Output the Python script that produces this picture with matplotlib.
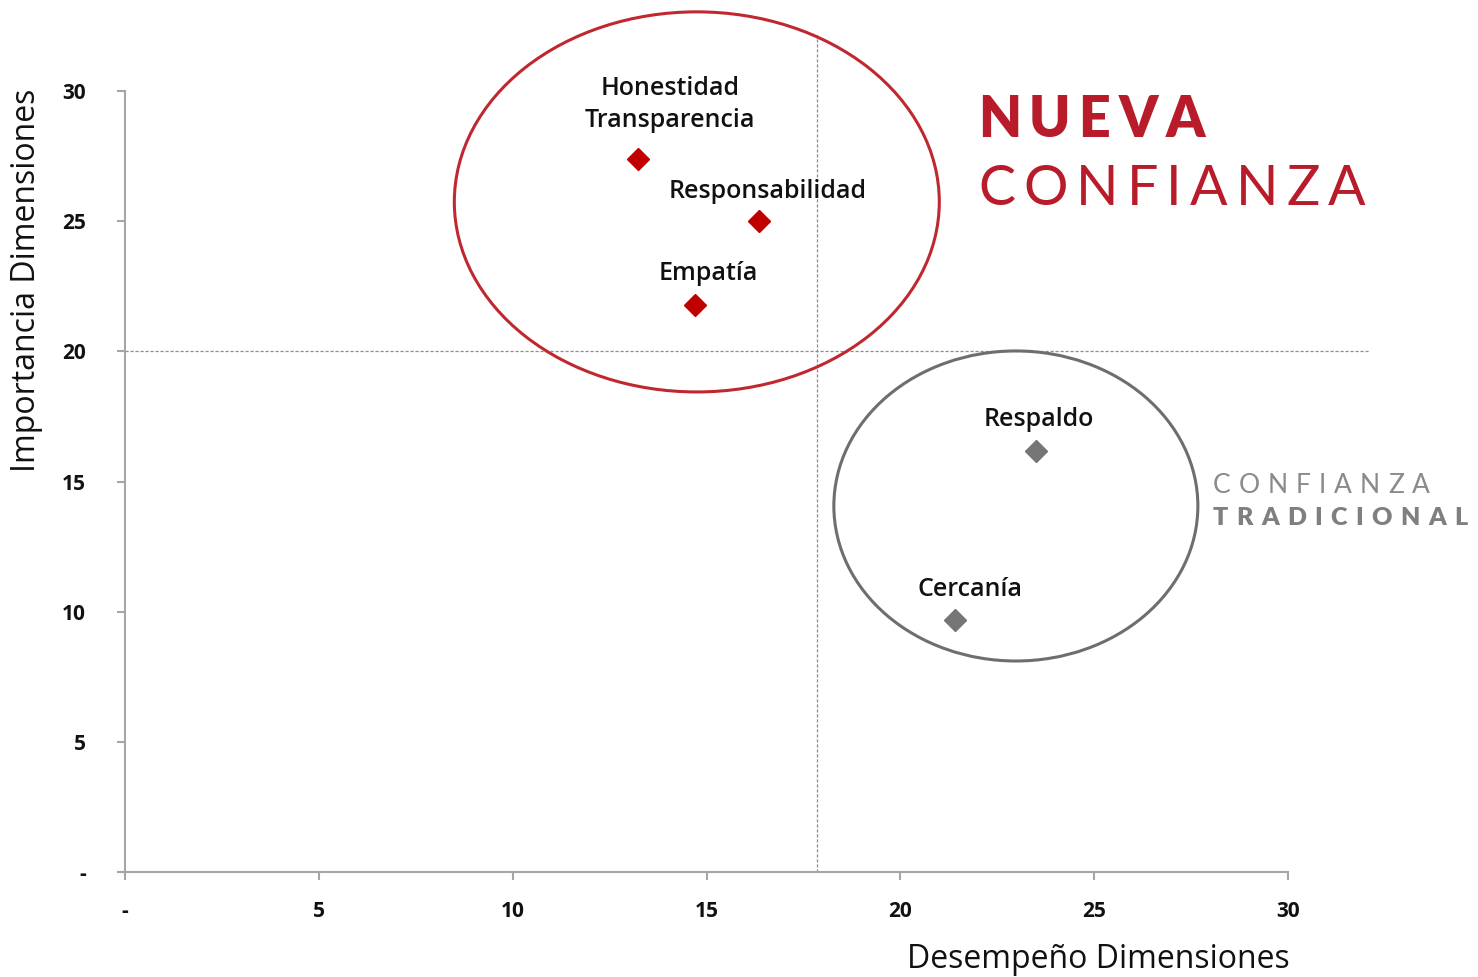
"""
Matriz de confianza: importancia vs desempeño de las dimensiones.
"""

import matplotlib
matplotlib.use("Agg")
import matplotlib.pyplot as plt
from matplotlib.patches import Ellipse


# =========================
# Data
# =========================

NUEVA_LABELS = ["Honestidad\nTransparencia", "Responsabilidad", "Empatía"]
NUEVA_X = [13.23, 16.35, 14.70]
NUEVA_Y = [27.39, 25.01, 21.78]

TRAD_LABELS = ["Respaldo", "Cercanía"]
TRAD_X = [23.50, 21.41]
TRAD_Y = [16.17, 9.68]

X_CUT = 17.85
Y_CUT = 20.0

TICKS = [0, 5, 10, 15, 20, 25, 30]
TICK_LABELS = ["-", "5", "10", "15", "20", "25", "30"]

# label offsets from marker (points)
NUEVA_OFFSETS = [(23, 39), (6.5, 21), (10, 22.5)]
TRAD_OFFSETS = [(2, 23), (11, 22)]

RED = "#C00000"
RED_LINE = "#C0282F"
RED_TEXT = "#B81C2B"
GREY = "#767676"
GREY_LINE = "#6E6E6E"
INK = "#111111"

W, H = 1478, 977

plt.rcParams["font.family"] = ["Open Sans", "DejaVu Sans"]

fig = plt.figure(figsize=(W / 100, H / 100), dpi=100)
ax = fig.add_axes([125 / W, 1 - 872 / H, (1288 - 125) / W, (872 - 91) / H])

ax.set_xlim(0, 30)
ax.set_ylim(0, 30)

# quadrant guides (they run past the axes)
ax.plot([X_CUT, X_CUT], [0, 32.15], color="#8c8c8c", lw=0.9,
        ls=(0, (2.5, 1.5)), clip_on=False, zorder=1)
ax.plot([0, 32.1], [Y_CUT, Y_CUT], color="#8c8c8c", lw=0.9,
        ls=(0, (2.5, 1.5)), clip_on=False, zorder=1)

# group ellipses
ax.add_patch(Ellipse((14.75, 25.74), 12.51, 14.6, fill=False,
                     edgecolor=RED_LINE, lw=2.2, clip_on=False, zorder=2))
ax.add_patch(Ellipse((22.98, 14.06), 9.39, 11.91, fill=False,
                     edgecolor=GREY_LINE, lw=2.2, clip_on=False, zorder=2))

ax.plot(NUEVA_X, NUEVA_Y, ls="none", marker="D", ms=11.5, color=RED, zorder=3)
ax.plot(TRAD_X, TRAD_Y, ls="none", marker="D", ms=11.5, color=GREY, zorder=3)

for lab, x, y, off in zip(NUEVA_LABELS, NUEVA_X, NUEVA_Y, NUEVA_OFFSETS):
    ax.annotate(lab, (x, y), xytext=off, textcoords="offset points",
                ha="center", va="center", fontsize=18, fontweight="semibold",
                color=INK, linespacing=1.35)
for lab, x, y, off in zip(TRAD_LABELS, TRAD_X, TRAD_Y, TRAD_OFFSETS):
    ax.annotate(lab, (x, y), xytext=off, textcoords="offset points",
                ha="center", va="center", fontsize=18, fontweight="semibold",
                color=INK)

# axes styling
for side in ["top", "right"]:
    ax.spines[side].set_visible(False)
for side in ["left", "bottom"]:
    ax.spines[side].set_color("#a6a6a6")
    ax.spines[side].set_linewidth(1.5)

ax.set_xticks(TICKS)
ax.set_xticklabels(TICK_LABELS)
ax.set_yticks(TICKS)
ax.set_yticklabels(TICK_LABELS)
ax.tick_params(axis="both", color="#a6a6a6", width=1.5, length=6,
               labelsize=15, labelcolor=INK)
ax.tick_params(axis="x", pad=15)
ax.tick_params(axis="y", pad=22)
for t in ax.get_xticklabels() + ax.get_yticklabels():
    t.set_fontweight("bold")

fig.text(27 / W, 1 - 280 / H, "Importancia Dimensiones", rotation=90,
         ha="center", va="center", fontsize=23, color=INK)
fig.text(1290 / W, 1 - 960 / H, "Desempeño Dimensiones",
         ha="right", va="center", fontsize=23, color=INK)


def spaced_text(x_px, y_px, s, size, weight, color, track_px):
    """Draw text letter by letter with extra tracking (pixel coords)."""
    renderer = fig.canvas.get_renderer()
    x = x_px
    for ch in s:
        t = fig.text(x / W, 1 - y_px / H, ch, ha="left", va="baseline",
                     fontsize=size, fontweight=weight, color=color,
                     family=["Lato", "DejaVu Sans"])
        w = t.get_window_extent(renderer=renderer).width
        x += w + track_px


spaced_text(978, 137, "NUEVA", 40, "heavy", RED_TEXT, 8)
spaced_text(978, 205, "CONFIANZA", 40, "normal", RED_TEXT, 8.2)
spaced_text(1213, 493, "CONFIANZA", 19, "normal", "#8a8a8a", 8)
spaced_text(1213, 525, "TRADICIONAL", 18, "heavy", "#7f7f7f", 8.3)

fig.savefig("out.png", dpi=100)
